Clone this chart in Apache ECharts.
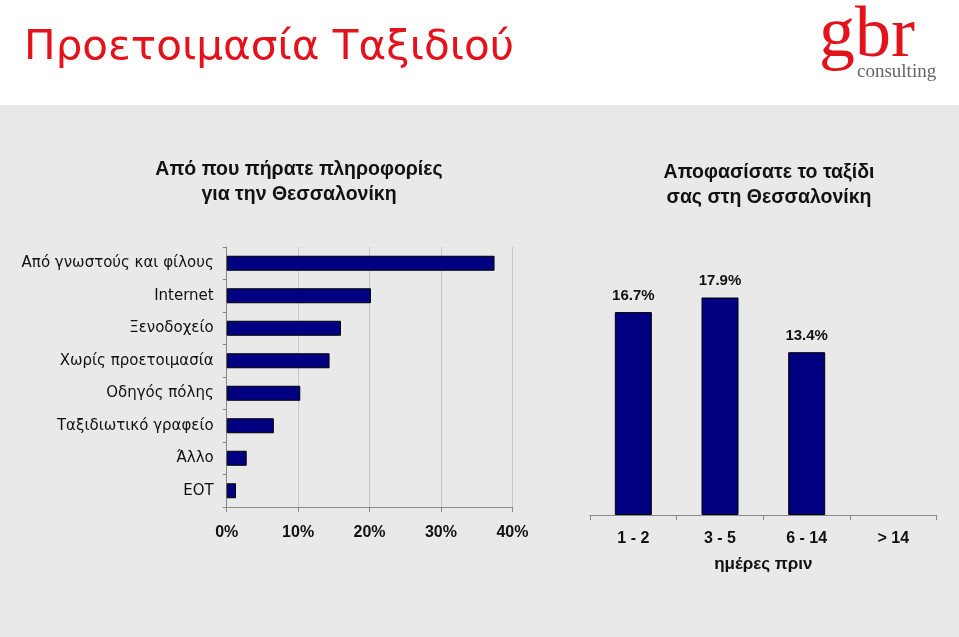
<!DOCTYPE html>
<html><head><meta charset="utf-8">
<script src="https://cdn.jsdelivr.net/npm/echarts@6/dist/echarts.min.js"></script>
<style>html,body{margin:0;padding:0;background:#fff}#c{width:959px;height:637px}</style>
</head><body><div id="c"></div>
<script>
const sourceCategories = ['Από γνωστούς και φίλους','Internet','Ξενοδοχείο','Χωρίς προετοιμασία','Οδηγός πόλης','Ταξιδιωτικό γραφείο','Άλλο','ΕΟΤ'];
const sourceValues = [37.5, 20.2, 16.0, 14.4, 10.3, 6.6, 2.8, 1.3];
const dayCategories = ['1 - 2','3 - 5','6 - 14','> 14'];
const dayValues = [16.7, 17.9, 13.4, null];
const pctTicks = [0, 10, 20, 30, 40];

const FONT = "'Liberation Sans', Arial, sans-serif";
const WIDE = "'DejaVu Sans', 'Liberation Sans', sans-serif";
const SERIF = "'Liberation Serif', 'DejaVu Serif', serif";
const pageTitle = 'Προετοιμασία Ταξιδιού';
const titleFont = "40px " + WIDE;
// stretch the page title horizontally to the reference's width (about 490px)
const ctx = document.createElement('canvas').getContext('2d');
ctx.font = titleFont;
const titleScale = 490 / ctx.measureText(pageTitle).width;

const chart = echarts.init(document.getElementById('c'), null, {renderer:'canvas'});
const barStyle = {color:'#000080', borderColor:'#000', borderWidth:1};
chart.setOption({
  animation:false,
  backgroundColor:'#fff',
  graphic:[
    {type:'rect', z:-10, shape:{x:0,y:105,width:959,height:532}, style:{fill:'#e9e9e9'}},
    {type:'text', x:24, y:29, scaleX:titleScale, style:{text:pageTitle, fill:'#e3121b', font:titleFont}},
    {type:'text', x:819, y:1, style:{text:'gbr', fill:'#e3121b', font:"72px "+SERIF}},
    {type:'text', x:857, y:63, style:{text:'consulting', fill:'#666', font:"19px "+SERIF}}
  ],
  title:[
    {text:'Από που πήρατε πληροφορίες\nγια την Θεσσαλονίκη', left:294, top:152, textAlign:'center',
      textStyle:{fontFamily:FONT, fontWeight:'bold', fontSize:19.5, lineHeight:25, color:'#111'}},
    {text:'Αποφασίσατε το ταξίδι\nσας στη Θεσσαλονίκη', left:764, top:155, textAlign:'center',
      textStyle:{fontFamily:FONT, fontWeight:'bold', fontSize:19.5, lineHeight:25, color:'#111'}}
  ],
  grid:[
    {left:226.7, top:247, width:285.7, height:260},
    {left:590, top:272, width:346.7, height:243}
  ],
  xAxis:[
    {type:'value', gridIndex:0, min:pctTicks[0], max:pctTicks[pctTicks.length-1], interval:10,
      axisLine:{show:true, lineStyle:{color:'#888'}}, axisTick:{show:true, length:5, lineStyle:{color:'#888'}},
      splitLine:{show:true, lineStyle:{color:'#c8c8c8'}},
      axisLabel:{formatter:'{value}%', margin:18, fontFamily:FONT, fontSize:16, fontWeight:'bold', color:'#111'}},
    {type:'category', gridIndex:1, data:dayCategories,
      axisLine:{show:true, lineStyle:{color:'#888'}}, axisTick:{show:true, length:5, lineStyle:{color:'#888'}},
      axisLabel:{margin:16, fontFamily:FONT, fontSize:16, fontWeight:'bold', color:'#111'},
      name:'ημέρες πριν', nameLocation:'middle', nameGap:41,
      nameTextStyle:{fontFamily:FONT, fontSize:17, fontWeight:'bold', color:'#111'}}
  ],
  yAxis:[
    {type:'category', gridIndex:0, data:sourceCategories, inverse:true,
      axisLine:{show:true, lineStyle:{color:'#888'}}, axisTick:{show:true, length:4, lineStyle:{color:'#888'}},
      axisLabel:{margin:13, fontFamily:WIDE, fontSize:15, color:'#111'}},
    {type:'value', gridIndex:1, min:0, max:20, show:false}
  ],
  series:[
    {type:'bar', xAxisIndex:0, yAxisIndex:0, data:sourceValues, barWidth:15, itemStyle:barStyle},
    {type:'bar', xAxisIndex:1, yAxisIndex:1, data:dayValues, barWidth:37, itemStyle:barStyle,
      label:{show:true, position:'top', distance:9, formatter:p=>p.value.toFixed(1)+'%',
        fontFamily:FONT, fontSize:15, fontWeight:'bold', color:'#111'}}
  ]
});
</script></body></html>
